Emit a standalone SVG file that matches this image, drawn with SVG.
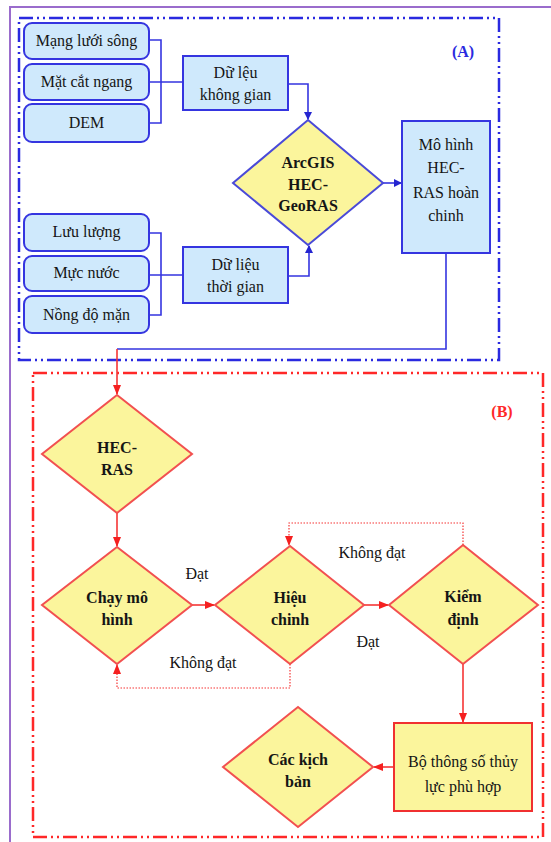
<svg xmlns="http://www.w3.org/2000/svg" width="551" height="842" viewBox="0 0 551 842">
<style>
text{font-family:"Liberation Serif","Times New Roman","DejaVu Serif",serif;font-size:16px;fill:#151515;text-anchor:middle}
.b{font-weight:bold}
.inbox{fill:#cfe9fc;stroke:#3535e0;stroke-width:2}
.bbox{fill:#cfe9fc;stroke:#3535e0;stroke-width:2}
.bdia{fill:#fbf59c;stroke:#4a4ad8;stroke-width:2}
.rdia{fill:#fbf59c;stroke:#f25050;stroke-width:2}
.rbox{fill:#fbf59c;stroke:#f03030;stroke-width:2}
.bl{fill:none;stroke:#3535e0;stroke-width:1.6}
.rl{fill:none;stroke:#f53535;stroke-width:1.6}
.rd{fill:none;stroke:#f53535;stroke-width:1.2;stroke-dasharray:1.5 1.5}
.frame{fill:none;stroke-width:2.5;stroke-dasharray:14 4 2 4 2 4}
</style>
<defs>
<marker id="ab" markerWidth="8" markerHeight="8" refX="7" refY="4" orient="auto" markerUnits="userSpaceOnUse"><path d="M0,0 L8,4 L0,8 Z" fill="#2525d0"/></marker>
<marker id="ar" markerWidth="10" markerHeight="8" refX="9" refY="4" orient="auto" markerUnits="userSpaceOnUse"><path d="M0,0 L10,4 L0,8 Z" fill="#f52020"/></marker>
</defs>
<g id="frames">
<path d="M10,842 V7 H551" fill="none" stroke="#9a6ccc" stroke-width="2"/>
<rect x="19" y="18" width="480" height="342" class="frame" stroke="#2a2ae0"/>
<rect x="33" y="373" width="510" height="464" class="frame" stroke="#ff2828"/>
<text x="463" y="57" class="b" style="fill:#2a2ae0">(A)</text>
<text x="502" y="417" class="b" style="fill:#ff2828">(B)</text>
</g>
<g id="connectors">
<path class="bl" d="M149,40 H161 V123 H149 M149,82 H183"/>
<path class="bl" d="M149,233 H161 V315 H149 M149,275 H183"/>
<path class="bl" d="M288,84 H308 V119" marker-end="url(#ab)"/>
<path class="bl" d="M288,276 H309 V246" marker-end="url(#ab)"/>
<path class="bl" d="M383,183 H401" marker-end="url(#ab)"/>
<path class="bl" d="M446,253 V349 H117"/>
<path class="rl" d="M117,349 V394" marker-end="url(#ar)"/>
<path class="rl" d="M117,513 V546" marker-end="url(#ar)"/>
<path class="rl" d="M192,605 H214" marker-end="url(#ar)"/>
<path class="rl" d="M364,605 H388" marker-end="url(#ar)"/>
<path class="rl" d="M463,664 V722" marker-end="url(#ar)"/>
<path class="rl" d="M394,767 H374" marker-end="url(#ar)"/>
<path class="rd" d="M463,545 V523 H289 V545" marker-end="url(#ar)"/>
<path class="rd" d="M290,664 V688 H117 V665" marker-end="url(#ar)"/>
<text x="197" y="579">Đạt</text>
<text x="368" y="647">Đạt</text>
<text x="372" y="558">Không đạt</text>
<text x="203" y="668">Không đạt</text>
</g>
<g id="n_mang"><rect x="24" y="23" width="125" height="36" rx="8" class="inbox"/><text x="86.5" y="46">Mạng lưới sông</text></g>
<g id="n_matcat"><rect x="24" y="64" width="125" height="36" rx="8" class="inbox"/><text x="86.5" y="87">Mặt cắt ngang</text></g>
<g id="n_dem"><rect x="24" y="104" width="125" height="38" rx="8" class="inbox"/><text x="86.5" y="128">DEM</text></g>
<g id="n_luuluong"><rect x="24" y="214" width="125" height="37" rx="8" class="inbox"/><text x="86.5" y="237">Lưu lượng</text></g>
<g id="n_mucnuoc"><rect x="24" y="256" width="125" height="35" rx="8" class="inbox"/><text x="86.5" y="278">Mực nước</text></g>
<g id="n_nongdo"><rect x="24" y="296" width="125" height="37" rx="8" class="inbox"/><text x="86.5" y="320">Nồng độ mặn</text></g>
<g id="n_khonggian"><rect x="183" y="56" width="105" height="54" class="bbox"/><text x="235.5" y="78">Dữ lệu</text><text x="235.5" y="100">không gian</text></g>
<g id="n_thoigian"><rect x="183" y="247" width="105" height="56" class="bbox"/><text x="235.5" y="270">Dữ liệu</text><text x="235.5" y="292">thời gian</text></g>
<g id="n_arcgis"><polygon points="308,120 383,183 308,245 233,183" class="bdia"/><text x="308" y="168" class="b">ArcGIS</text><text x="308" y="190" class="b">HEC-</text><text x="308" y="211" class="b">GeoRAS</text></g>
<g id="n_mohinh"><rect x="402" y="121" width="88" height="132" class="bbox"/><text x="446" y="150">Mô hình</text><text x="446" y="173">HEC-</text><text x="446" y="198">RAS hoàn</text><text x="446" y="221">chinh</text></g>
<g id="n_hecras"><polygon points="117,395 192,454 117,513 42,454" class="rdia"/><text x="117" y="453" class="b">HEC-</text><text x="117" y="475" class="b">RAS</text></g>
<g id="n_chay"><polygon points="117,547 192,605 117,664 42,605" class="rdia"/><text x="117" y="603" class="b">Chạy mô</text><text x="117" y="625" class="b">hình</text></g>
<g id="n_hieu"><polygon points="290,546 364,605 290,664 215,605" class="rdia"/><text x="290" y="603" class="b">Hiệu</text><text x="290" y="625" class="b">chinh</text></g>
<g id="n_kiem"><polygon points="463,545 538,605 463,664 389,605" class="rdia"/><text x="463" y="602" class="b">Kiểm</text><text x="463" y="625" class="b">định</text></g>
<g id="n_bo"><rect x="394" y="723" width="138" height="88" class="rbox"/><text x="463" y="767">Bộ thông số thủy</text><text x="463" y="792">lực phù hợp</text></g>
<g id="n_kichban"><polygon points="298,707 373,767 298,827 223,767" class="rdia"/><text x="298" y="765" class="b">Các kịch</text><text x="298" y="787" class="b">bản</text></g>
</svg>
